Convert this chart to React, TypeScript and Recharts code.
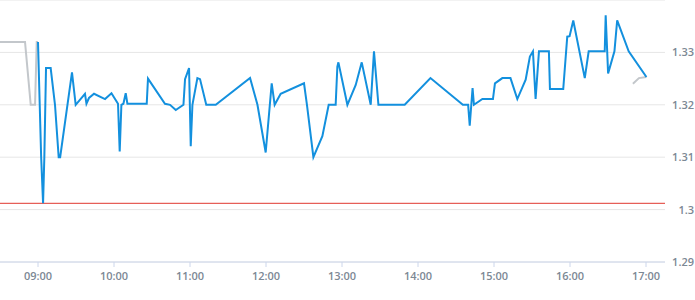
import React from 'react';
import {
  LineChart,
  Line,
  XAxis,
  YAxis,
  CartesianGrid,
  ReferenceLine,
} from 'recharts';

// intraday quotes (blue) and previous session tail (gray)
const quoteTimes = [
  '09:00:00', '09:02:30', '09:04:00', '09:05:00', '09:06:20', '09:10:00', '09:13:25', '09:16:20',
  '09:17:30', '09:26:50', '09:29:45', '09:37:05', '09:38:15', '09:40:15', '09:44:15', '09:52:55',
  '09:58:00', '10:03:10', '10:04:30', '10:05:50', '10:07:25', '10:09:15', '10:10:35', '10:25:50',
  '10:26:50', '10:40:15', '10:44:15', '10:48:45', '10:54:50', '10:56:05', '10:59:15', '11:00:35',
  '11:01:55', '11:05:50', '11:07:55', '11:12:50', '11:20:20', '11:47:25', '11:53:15', '11:59:45',
  '12:04:30', '12:06:50', '12:11:35', '12:30:00', '12:32:20', '12:37:25', '12:44:30', '12:49:30',
  '12:55:00', '12:56:20', '12:57:10', '13:04:15', '13:10:50', '13:15:35', '13:22:40', '13:25:15',
  '13:28:45', '13:49:30', '14:09:50', '14:35:25', '14:39:35', '14:40:50', '14:43:05', '14:44:10',
  '14:50:50', '14:59:10', '15:00:45', '15:06:35', '15:13:00', '15:18:25', '15:25:00', '15:28:20',
  '15:30:45', '15:32:50', '15:35:30', '15:43:20', '15:44:10', '15:54:40', '15:57:50', '15:59:40',
  '16:02:35', '16:11:40', '16:14:45', '16:27:25', '16:28:10', '16:30:05', '16:35:05', '16:37:15',
  '16:46:20', '17:00:20',
];
const quoteValues = [
  1.332, 1.310, 1.3012, 1.310, 1.327, 1.327, 1.320, 1.310,
  1.310, 1.3262, 1.320, 1.3221, 1.3202, 1.3213, 1.3221, 1.3211,
  1.3222, 1.3202, 1.3111, 1.320, 1.3202, 1.3222, 1.3202, 1.3202,
  1.325, 1.3202, 1.320, 1.319, 1.320, 1.3249, 1.327, 1.3121,
  1.320, 1.3251, 1.3249, 1.320, 1.320, 1.3251, 1.320, 1.3109,
  1.3241, 1.320, 1.3221, 1.3241, 1.320, 1.310, 1.314, 1.320,
  1.320, 1.3273, 1.3281, 1.320, 1.3238, 1.3281, 1.320, 1.3302,
  1.320, 1.320, 1.3251, 1.320, 1.320, 1.316, 1.3232, 1.320,
  1.3211, 1.3211, 1.3241, 1.3251, 1.3251, 1.3211, 1.3248, 1.3292,
  1.3302, 1.3211, 1.3302, 1.3302, 1.323, 1.323, 1.333, 1.3331,
  1.3361, 1.3251, 1.3302, 1.3302, 1.3371, 1.326, 1.3302, 1.3361,
  1.3302, 1.3253,
];

const prevTimes = ['08:30:00', '08:49:45', '08:54:15', '08:57:40', '08:59:00', '09:00:00'];
const prevValues = [1.332, 1.332, 1.320, 1.320, 1.332, 1.332];

const closeTimes = ['16:49:40', '16:54:25', '17:00:20'];
const closeValues = [1.324, 1.3251, 1.3253];

const openLevel = 1.3012;

const xTicks = ['09:00', '10:00', '11:00', '12:00', '13:00', '14:00', '15:00', '16:00', '17:00'];
const yTicks = [1.29, 1.3, 1.31, 1.32, 1.33];

const toHours = (s: string) => {
  const [h, m, sec = '0'] = s.split(':');
  return Number(h) + Number(m) / 60 + Number(sec) / 3600;
};

const pad = (n: number) => (n < 10 ? '0' + n : String(n));
const fmtHour = (v: number) => `${pad(Math.floor(v + 1e-6))}:00`;

const zip = (times: string[], values: number[]) =>
  times.map((t, i) => ({ t: toHours(t), v: values[i] }));

const quotes = zip(quoteTimes, quoteValues);
const prev = zip(prevTimes, prevValues);
const close = zip(closeTimes, closeValues);

const labelStyle = {
  fontFamily: '"Open Sans", sans-serif',
  fontSize: 11,
  fontWeight: 600,
  fill: '#7c8894',
};

const YTick = (props: any) => {
  const { y, payload } = props;
  return (
    <text x={694} y={y} dy="0.355em" textAnchor="end" style={labelStyle}>
      {String(Number(payload.value.toFixed(2)))}
    </text>
  );
};

export default function App() {
  return (
    <div style={{ position: 'absolute', left: 0, top: 0 }}>
      <LineChart
        width={695}
        height={300}
        margin={{ top: 0, right: 0, bottom: 0, left: 0 }}
      >
        <CartesianGrid vertical={false} stroke="#e6e6e6" />
        <XAxis
          type="number"
          dataKey="t"
          domain={[8.5, 17.25]}
          ticks={xTicks.map(toHours)}
          tickFormatter={fmtHour}
          allowDataOverflow
          height={38}
          stroke="#ccd6eb"
          tickSize={5}
          tickMargin={5}
          tick={labelStyle}
        />
        <YAxis
          orientation="right"
          type="number"
          dataKey="v"
          domain={[1.29, 1.34]}
          ticks={yTicks}
          allowDataOverflow
          width={30}
          axisLine={false}
          tickLine={false}
          tick={<YTick />}
        />
        <ReferenceLine y={openLevel} stroke="#e0372f" strokeWidth={1} ifOverflow="extendDomain" />
        <Line
          data={prev}
          dataKey="v"
          type="linear"
          stroke="#c3c7cb"
          strokeWidth={2}
          dot={false}
          activeDot={false}
          isAnimationActive={false}
        />
        <Line
          data={close}
          dataKey="v"
          type="linear"
          stroke="#c3c7cb"
          strokeWidth={2}
          dot={false}
          activeDot={false}
          isAnimationActive={false}
        />
        <Line
          data={quotes}
          dataKey="v"
          type="linear"
          stroke="#1390de"
          strokeWidth={2}
          dot={false}
          activeDot={false}
          isAnimationActive={false}
        />
      </LineChart>
    </div>
  );
}
